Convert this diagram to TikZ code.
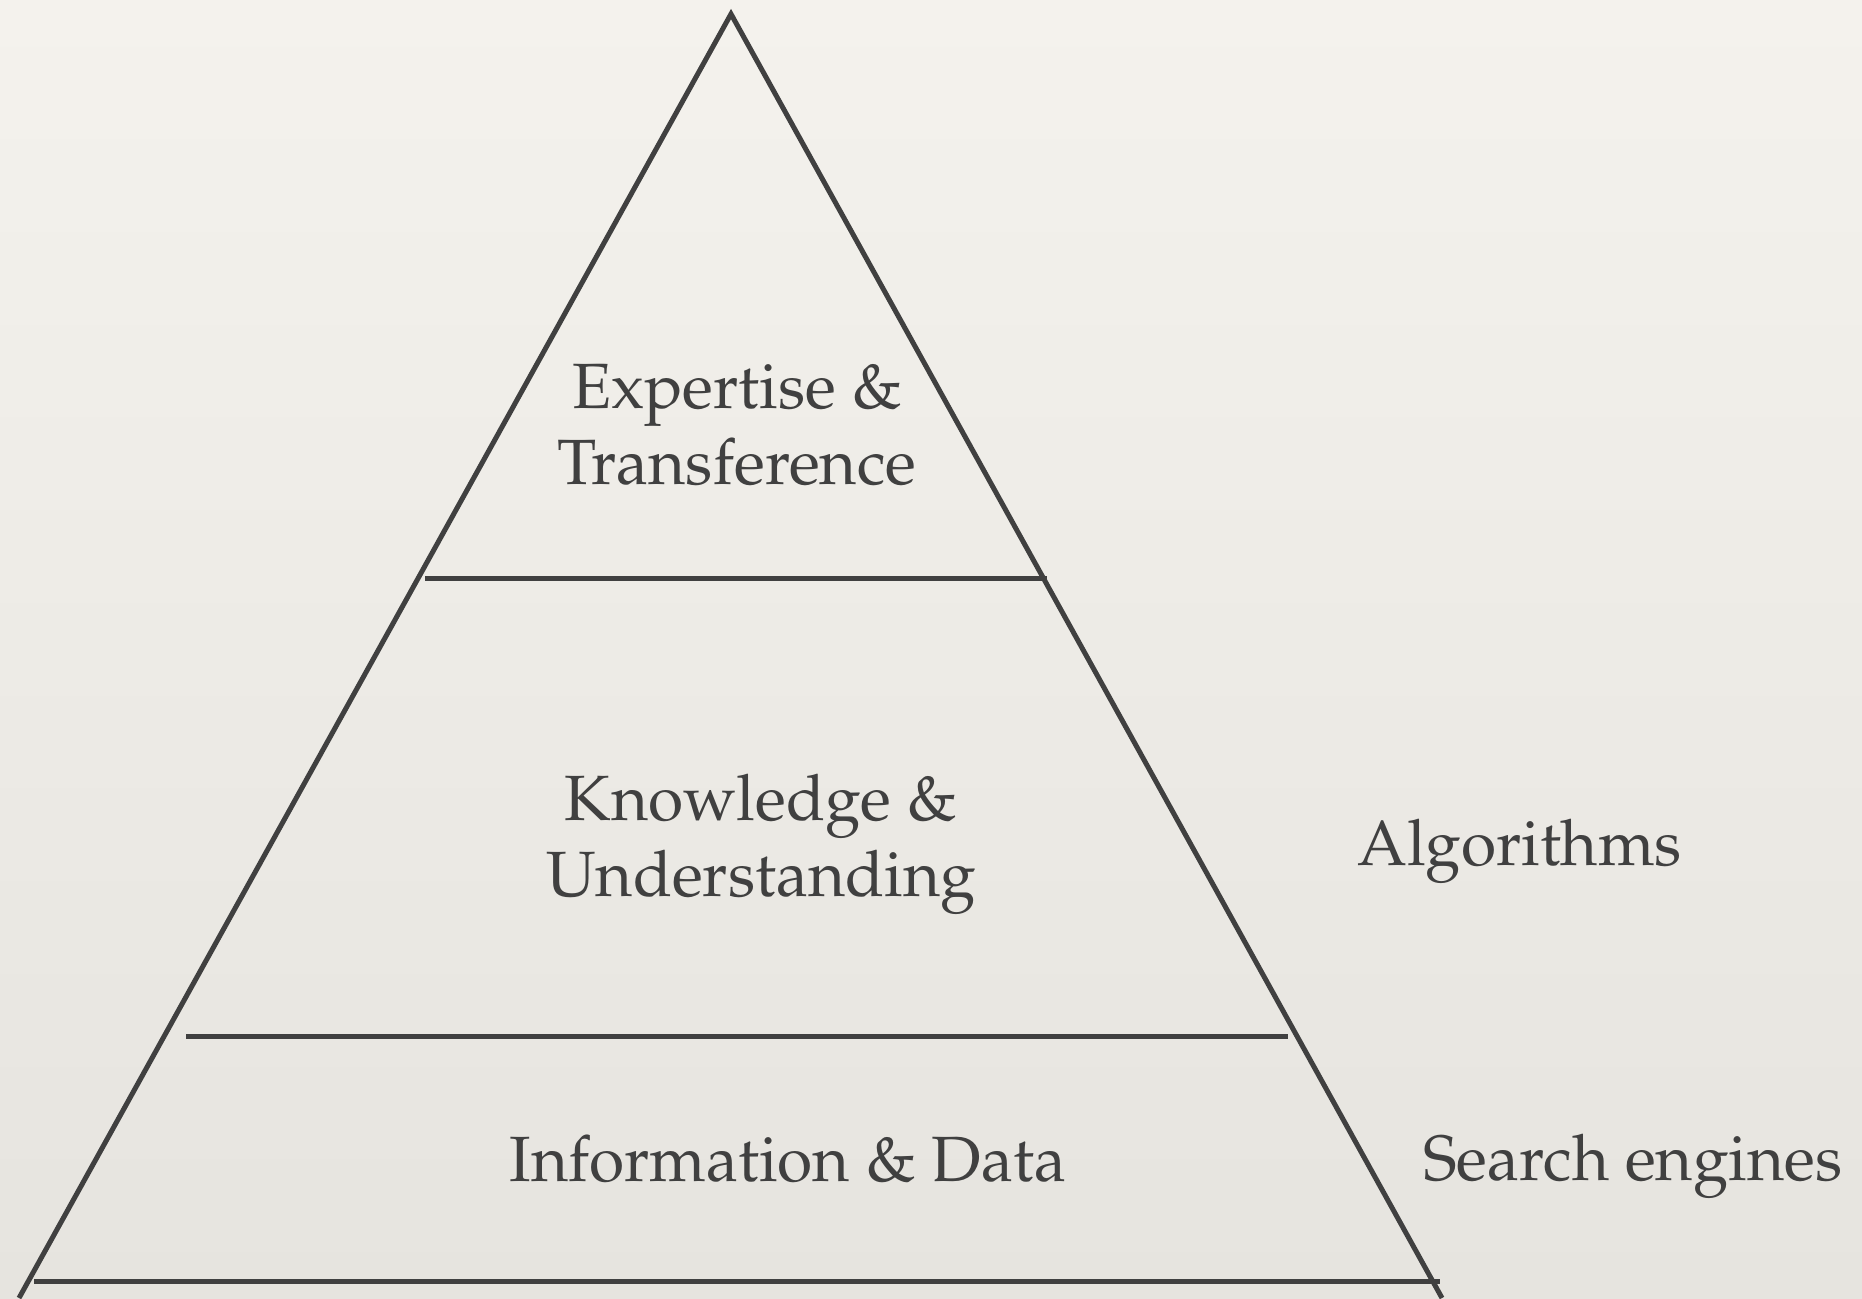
\documentclass[tikz,border=0pt]{standalone}
\usepackage[T1]{fontenc}
\renewcommand\rmdefault{ppl}
\begin{document}
\begin{tikzpicture}[x=1pt,y=-1pt,
  ink/.style={draw=black!75, line width=5pt},
  label/.style={text=black!75, font=\fontsize{64}{76}\selectfont, inner sep=0pt},
  tier/.style={label, align=center, anchor=center}]
  % paper background
  \shade[top color={rgb,255:red,244;green,242;blue,237}, bottom color={rgb,255:red,230;green,228;blue,223}]
    (0,0) rectangle (1862,1298);
  \useasboundingbox (0,0) rectangle (1862,1298);
  \begin{scope}
    \clip (0,0) rectangle (1862,1298);
    % pyramid outline
    \coordinate (apex) at (731,14);
    \coordinate (bl) at (19,1298);
    \coordinate (br) at (1442,1298);
    \draw[ink, line join=miter] (bl) -- (apex) -- (br);
    % tier dividers
    \coordinate (a1) at (425,578);  \coordinate (a2) at (1047,578);
    \coordinate (b1) at (186,1036); \coordinate (b2) at (1288,1036);
    \coordinate (c1) at (34,1281);  \coordinate (c2) at (1440,1281);
    \draw[ink] (a1) -- (a2);
    \draw[ink] (b1) -- (b2);
    \draw[ink] (c1) -- (c2);
  \end{scope}
  % tier labels
  \node[tier] (expert) at (737,425) {Expertise \&\\Transference};
  \node[tier] (know) at (761,844) {Knowledge \&\\Understanding};
  \node[tier] (info) at (788,1159) {Information \& Data};
  % side labels
  \node[label, anchor=base west] (algo) at (1357,865) {Algorithms};
  \node[label, anchor=base west] (search) at (1423,1180) {Search engines};
\end{tikzpicture}
\end{document}
